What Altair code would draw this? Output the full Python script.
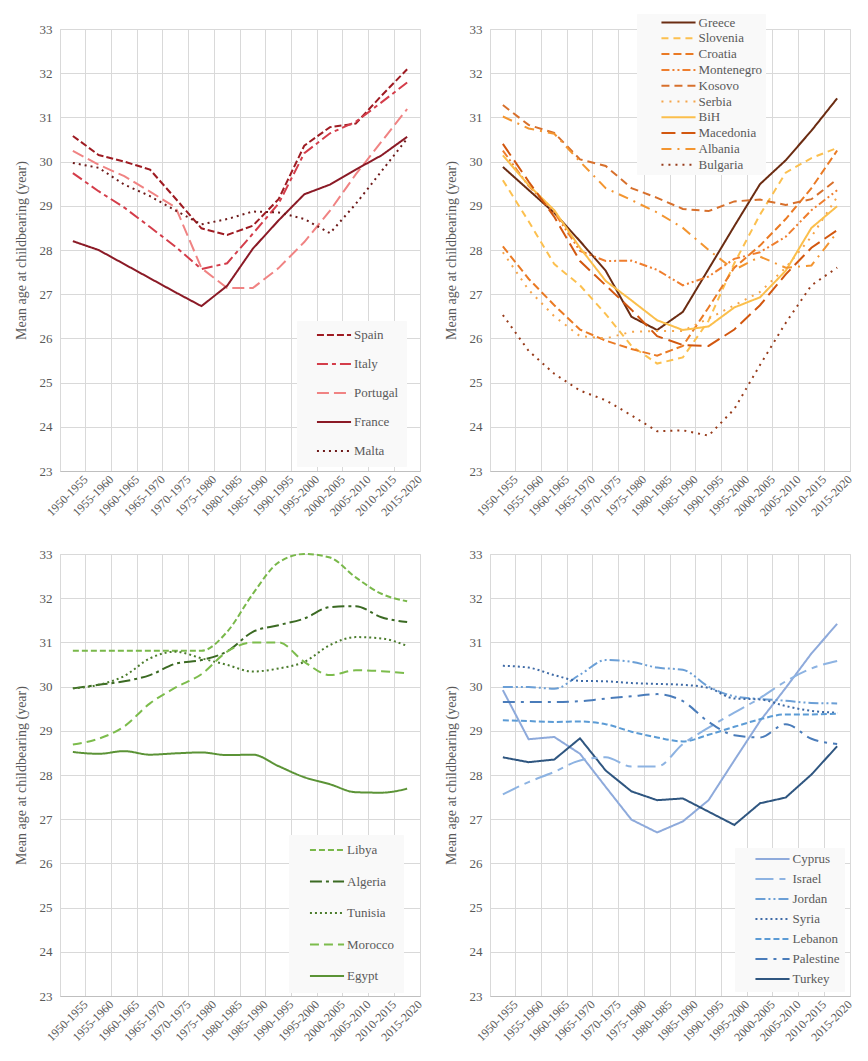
import altair as alt
import pandas as pd

periods = ["1950-1955", "1955-1960", "1960-1965", "1965-1970", "1970-1975",
           "1975-1980", "1980-1985", "1985-1990", "1990-1995", "1995-2000",
           "2000-2005", "2005-2010", "2010-2015", "2015-2020"]

# Panel 1
p1_countries = ["Spain", "Italy", "Portugal", "France", "Malta"]
spain = [30.58, 30.15, 30.0, 29.82, 29.16, 28.49, 28.34, 28.55, 29.15, 30.36, 30.78, 30.86, 31.49, 32.09]
italy = [29.74, 29.33, 28.96, 28.52, 28.07, 27.57, 27.7, 28.37, 29.05, 30.19, 30.64, 30.9, 31.34, 31.79]
portugal = [30.24, 29.93, 29.67, 29.32, 28.96, 27.59, 27.14, 27.14, 27.59, 28.18, 28.89, 29.71, 30.45, 31.19]
france = [28.2, 28.0, 27.68, 27.36, 27.04, 26.73, 27.19, 28.03, 28.67, 29.26, 29.48, 29.82, 30.14, 30.56]
malta = [29.97, 29.86, 29.48, 29.22, 28.89, 28.58, 28.7, 28.87, 28.85, 28.7, 28.38, 29.04, 29.78, 30.52]
p1_values = [spain, italy, portugal, france, malta]
p1_colors = ["#9e1b22", "#d43d4a", "#f08383", "#8b1a26", "#6e1a1a"]
p1_dashes = [[7, 3], [11, 4, 4, 4], [12, 5], [1, 0], [2, 4]]

# Panel 2
p2_countries = ["Greece", "Slovenia", "Croatia", "Montenegro", "Kosovo",
                "Serbia", "BiH", "Macedonia", "Albania", "Bulgaria"]
greece = [29.88, 29.36, 28.84, 28.2, 27.53, 26.49, 26.19, 26.6, 27.57, 28.54, 29.49, 30.03, 30.7, 31.43]
slovenia = [29.58, 28.65, 27.68, 27.2, 26.55, 25.83, 25.43, 25.57, 26.4, 27.7, 28.8, 29.75, 30.08, 30.31]
croatia = [28.08, 27.35, 26.75, 26.2, 25.95, 25.76, 25.61, 25.83, 26.7, 27.6, 28.1, 28.7, 29.4, 30.25]
montenegro = [30.25, 29.45, 28.85, 27.98, 27.75, 27.76, 27.55, 27.2, 27.4, 27.8, 27.95, 28.3, 28.9, 29.35]
kosovo = [31.28, 30.83, 30.65, 30.05, 29.9, 29.4, 29.18, 28.93, 28.88, 29.1, 29.14, 29.02, 29.15, 29.6]
serbia = [27.95, 27.1, 26.5, 26.05, 26.0, 26.15, 26.17, 26.17, 26.45, 26.75, 27.05, 27.6, 28.3, 29.2]
bih = [30.14, 29.47, 28.9, 28.05, 27.3, 26.86, 26.41, 26.19, 26.27, 26.7, 26.93, 27.53, 28.5, 28.99]
macedonia = [30.4, 29.55, 28.75, 27.75, 27.2, 26.65, 26.05, 25.85, 25.83, 26.2, 26.75, 27.45, 28.05, 28.45]
albania = [31.02, 30.75, 30.63, 30.0, 29.4, 29.13, 28.85, 28.5, 28.0, 27.55, 27.85, 27.6, 27.65, 28.4]
bulgaria = [26.53, 25.72, 25.2, 24.82, 24.6, 24.26, 23.9, 23.92, 23.8, 24.4, 25.4, 26.35, 27.2, 27.6]
p2_values = [greece, slovenia, croatia, montenegro, kosovo, serbia, bih, macedonia, albania, bulgaria]
p2_colors = ["#6b2c12", "#fcc04f", "#ea7a24", "#ef7e2e", "#d7702c",
             "#f5a54a", "#fbbf4c", "#d2570f", "#f39530", "#973b1a"]
p2_dashes = [[1, 0], [7, 5], [8, 4], [8, 3, 2, 3, 2, 3], [8, 5],
             [2, 6], [1, 0], [14, 6], [10, 6, 2, 6], [2, 5]]

# Panel 3
p3_countries = ["Libya", "Algeria", "Tunisia", "Morocco", "Egypt"]
libya = [30.81, 30.81, 30.81, 30.81, 30.81, 30.81, 31.24, 32.1, 32.81, 33.0, 32.92, 32.47, 32.1, 31.93]
algeria = [29.96, 30.04, 30.12, 30.26, 30.52, 30.6, 30.8, 31.24, 31.39, 31.54, 31.8, 31.82, 31.57, 31.46]
tunisia = [29.96, 30.04, 30.24, 30.64, 30.79, 30.64, 30.49, 30.34, 30.41, 30.56, 30.94, 31.12, 31.09, 30.92]
morocco = [28.69, 28.82, 29.1, 29.62, 29.98, 30.28, 30.79, 31.0, 31.0, 30.56, 30.26, 30.37, 30.35, 30.3]
egypt = [28.52, 28.48, 28.54, 28.46, 28.49, 28.51, 28.45, 28.46, 28.2, 27.95, 27.79, 27.61, 27.6, 27.69]
p3_values = [libya, algeria, tunisia, morocco, egypt]
p3_colors = ["#79b84a", "#3b6a23", "#4b7c2c", "#7cbc4c", "#5b9336"]
p3_dashes = [[6, 3], [12, 4, 3, 4], [2, 3], [9, 5], [1, 0]]

# Panel 4
p4_countries = ["Cyprus", "Israel", "Jordan", "Syria", "Lebanon", "Palestine", "Turkey"]
cyprus = [29.92, 28.81, 28.86, 28.48, 27.73, 26.99, 26.7, 26.95, 27.43, 28.33, 29.22, 29.97, 30.75, 31.42]
israel = [27.56, 27.84, 28.07, 28.33, 28.4, 28.19, 28.19, 28.7, 29.07, 29.41, 29.74, 30.12, 30.41, 30.58]
jordan = [29.99, 29.99, 29.95, 30.27, 30.6, 30.56, 30.43, 30.38, 30.0, 29.78, 29.72, 29.68, 29.63, 29.62]
syria = [30.47, 30.43, 30.26, 30.13, 30.12, 30.08, 30.06, 30.04, 29.97, 29.73, 29.71, 29.56, 29.45, 29.41]
lebanon = [29.24, 29.22, 29.2, 29.21, 29.15, 28.98, 28.85, 28.76, 28.91, 29.09, 29.26, 29.37, 29.37, 29.39]
palestine = [29.65, 29.65, 29.65, 29.67, 29.73, 29.78, 29.83, 29.67, 29.2, 28.9, 28.85, 29.15, 28.82, 28.7]
turkey = [28.4, 28.29, 28.35, 28.83, 28.1, 27.63, 27.43, 27.47, 27.17, 26.87, 27.36, 27.49, 28.01, 28.65]
p4_values = [cyprus, israel, jordan, syria, lebanon, palestine, turkey]
p4_colors = ["#8eaadb", "#8db3e2", "#6b9fd6", "#3e6aa6", "#5b9bd5", "#4a7cba", "#2f5680"]
p4_dashes = [[1, 0], [18, 6, 6, 6], [10, 3, 2, 3, 2, 3], [2, 3], [6, 3], [12, 6, 3, 6], [1, 0]]
p4_smooth = ["Israel", "Jordan", "Syria", "Lebanon", "Palestine"]

W, H = 360, 442
FONT = "Liberation Serif"
GRAY = "#595959"


def make_df(countries, values):
    rows = []
    for c, vals in zip(countries, values):
        for p, v in zip(periods, vals):
            rows.append({"country": c, "period": p, "value": v})
    return pd.DataFrame(rows)


def panel(countries, values, colors, dashes, lx, ly, rowpad, pad, symoff,
          smooth_all=False, smooth=None):
    df = make_df(countries, values)
    x = alt.X("period:N", sort=periods, bandPosition=0.5,
              scale=alt.Scale(type="band", domain=periods, paddingInner=0, paddingOuter=0),
              axis=alt.Axis(title=None, labelAngle=-45, bandPosition=0,
                            labelOffset=W / 14 / 2, labelAlign="right",
                            labelBaseline="middle", labelPadding=6,
                            grid=True, gridColor="#d9d9d9", ticks=False,
                            domainColor="#bfbfbf", labelColor=GRAY,
                            labelFont=FONT, labelFontSize=12))
    y = alt.Y("value:Q",
              scale=alt.Scale(domain=[23, 33], nice=False, zero=False),
              axis=alt.Axis(title="Mean age at childbearing (year)",
                            values=list(range(23, 34)), format="d",
                            grid=True, gridColor="#d9d9d9", ticks=False, domain=False,
                            labelColor=GRAY, labelFont=FONT, labelFontSize=13,
                            labelPadding=8, titleColor=GRAY, titleFont=FONT,
                            titleFontSize=14, titleFontWeight="normal",
                            titlePadding=11))
    legend = alt.Legend(title=None, orient="none", legendX=lx, legendY=ly,
                        symbolType="M-3.1,0H3.1", symbolSize=121,
                        symbolStrokeWidth=2, symbolOffset=symoff,
                        labelOffset=13.5, rowPadding=rowpad, padding=pad,
                        labelFont=FONT, labelFontSize=13, labelColor=GRAY,
                        fillColor="#f9f9f9", strokeColor="#f9f9f9")
    color = alt.Color("country:N", scale=alt.Scale(domain=countries, range=colors),
                      legend=legend)
    dash = alt.StrokeDash("country:N", scale=alt.Scale(domain=countries, range=dashes),
                          legend=legend)
    if smooth is None:
        interp = "monotone" if smooth_all else "linear"
        return alt.Chart(df).mark_line(strokeWidth=2, interpolate=interp).encode(
            x=x, y=y, color=color, strokeDash=dash, detail="country:N"
        ).properties(width=W, height=H)
    df_s = df[df["country"].isin(smooth)]
    df_l = df[~df["country"].isin(smooth)]
    a = alt.Chart(df_l).mark_line(strokeWidth=2, interpolate="linear").encode(
        x=x, y=y, color=color, strokeDash=dash, detail="country:N")
    b = alt.Chart(df_s).mark_line(strokeWidth=2, interpolate="monotone").encode(
        x=x, y=y, color=color, strokeDash=dash, detail="country:N")
    return alt.layer(a, b).properties(width=W, height=H)


c1 = panel(p1_countries, p1_values, p1_colors, p1_dashes, 237, 292, 15, 7.5, 23)
c2 = panel(p2_countries, p2_values, p2_colors, p2_dashes, 147, -15, 1.8, 2, 33)
c3 = panel(p3_countries, p3_values, p3_colors, p3_dashes, 229, 281, 17.5, 8.5, 23,
           smooth_all=True)
c4 = panel(p4_countries, p4_values, p4_colors, p4_dashes, 245, 294, 6, 4.5, 26.5,
           smooth=p4_smooth)

row1 = alt.hconcat(c1, c2, spacing=18).resolve_scale(color="independent", strokeDash="independent").resolve_legend(color="independent", strokeDash="independent")
row2 = alt.hconcat(c3, c4, spacing=18).resolve_scale(color="independent", strokeDash="independent").resolve_legend(color="independent", strokeDash="independent")

chart = alt.vconcat(row1, row2, spacing=28).resolve_scale(
    color="independent", strokeDash="independent"
).resolve_legend(color="independent", strokeDash="independent").configure(
    font=FONT, background="white"
).configure_view(stroke="#d9d9d9")

chart.save("out.html", embed_options={"renderer": "svg", "actions": False})
